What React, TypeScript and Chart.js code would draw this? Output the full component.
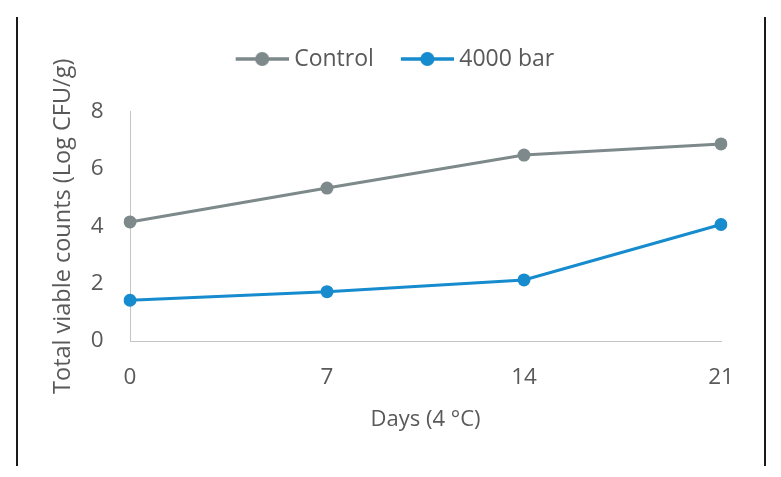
import React, { useEffect, useRef } from "react";
import { Chart, registerables } from "chart.js";

Chart.register(...registerables);

const days = ["0", "7", "14", "21"];
const controlValues = [4.15, 5.33, 6.48, 6.87];
const hppValues = [1.42, 1.72, 2.13, 4.06];
const seriesNames = ["Control", "4000 bar"];
const yTicks = [0, 2, 4, 6, 8];

const GRAY = "#7d898b";
const BLUE = "#168bcd";
const TEXT = "#595959";
const AXIS = "#c4c4c4";
const FONT = "'Open Sans', 'Noto Sans', sans-serif";

const LEGEND_EXTRA = 31;
const LEGEND_SHIFT = 1.5;

function makeMarker(color: string): HTMLCanvasElement {
  const c = document.createElement("canvas");
  c.width = 76;
  c.height = 20;
  const ctx = c.getContext("2d")!;
  ctx.strokeStyle = color;
  ctx.lineWidth = 3.5;
  ctx.beginPath();
  ctx.moveTo(23, 10);
  ctx.lineTo(76, 10);
  ctx.stroke();
  ctx.fillStyle = color;
  ctx.beginPath();
  ctx.arc(49.5, 10, 7, 0, Math.PI * 2);
  ctx.fill();
  return c;
}

const legendSpacer = {
  id: "legendSpacer",
  beforeInit(chart: any) {
    const legend = chart.legend;
    if (!legend) return;
    const orig = legend.fit;
    legend.fit = function () {
      orig.call(this);
      this.height += LEGEND_EXTRA;
    };
  },
  afterLayout(chart: any) {
    const legend = chart.legend;
    if (!legend) return;
    legend.left += LEGEND_SHIFT;
    legend.right += LEGEND_SHIFT;
  },
};

export default function App() {
  const ref = useRef<HTMLCanvasElement | null>(null);

  useEffect(() => {
    const markers = [makeMarker(GRAY), makeMarker(BLUE)];
    const chart = new Chart(ref.current!, {
      type: "line",
      data: {
        labels: days,
        datasets: [
          {
            label: seriesNames[0],
            data: controlValues,
            borderColor: GRAY,
            backgroundColor: GRAY,
            borderWidth: 3,
            pointRadius: 6.5,
            pointBackgroundColor: GRAY,
            pointBorderColor: GRAY,
            pointBorderWidth: 0,
            tension: 0,
          },
          {
            label: seriesNames[1],
            data: hppValues,
            borderColor: BLUE,
            backgroundColor: BLUE,
            borderWidth: 3,
            pointRadius: 6.5,
            pointBackgroundColor: BLUE,
            pointBorderColor: BLUE,
            pointBorderWidth: 0,
            tension: 0,
          },
        ],
      },
      options: {
        responsive: false,
        animation: false,
        layout: { padding: { top: 37.5, left: 48.8, right: 60, bottom: 42 } },
        plugins: {
          tooltip: { enabled: false },
          legend: {
            display: true,
            position: "top",
            labels: {
              usePointStyle: true,
              pointStyleWidth: 64,
              padding: 10,
              color: TEXT,
              font: { family: FONT, size: 23 },
              generateLabels(ch: any) {
                const items = (Chart as any).defaults.plugins.legend.labels.generateLabels(ch);
                return items.map((it: any, i: number) => ({ ...it, pointStyle: markers[i] }));
              },
            },
          },
        },
        scales: {
          x: {
            type: "category",
            offset: false,
            afterFit(scale: any) {
              scale.height = 94;
            },
            grid: { display: false, drawTicks: false },
            border: { display: true, color: AXIS, width: 1 },
            ticks: { color: TEXT, font: { family: FONT, size: 22.5 }, padding: 22.8, maxRotation: 0 },
            title: {
              display: true,
              text: "Days (4 °C)",
              color: TEXT,
              font: { family: FONT, size: 22 },
              padding: { top: 0, bottom: 2 },
            },
          },
          y: {
            min: 0,
            max: 8,
            afterBuildTicks(scale: any) {
              scale.ticks = yTicks.map((v) => ({ value: v }));
            },
            afterFit(scale: any) {
              scale.width = 81.2;
            },
            grid: { display: false, drawTicks: false },
            border: { display: true, color: AXIS, width: 1 },
            ticks: { color: TEXT, font: { family: FONT, size: 22.5 }, padding: 26.5 },
            title: {
              display: true,
              text: "Total viable counts (Log CFU/g)",
              color: TEXT,
              font: { family: FONT, size: 23.5 },
              padding: { top: 0, bottom: 0 },
            },
          },
        },
      },
      plugins: [legendSpacer],
    });
    return () => chart.destroy();
  }, []);

  return (
    <div style={{ position: "absolute", left: 0, top: 0, width: 781, height: 477, background: "#fff" }}>
      <canvas ref={ref} width={781} height={477} style={{ position: "absolute", left: 0, top: 0, width: 781, height: 477 }} />
      <div
        style={{
          position: "absolute",
          left: 16,
          top: 17,
          width: 750,
          height: 449,
          boxSizing: "border-box",
          borderLeft: "2px solid #1a1a1a",
          borderRight: "2px solid #1a1a1a",
          pointerEvents: "none",
        }}
      />
    </div>
  );
}
